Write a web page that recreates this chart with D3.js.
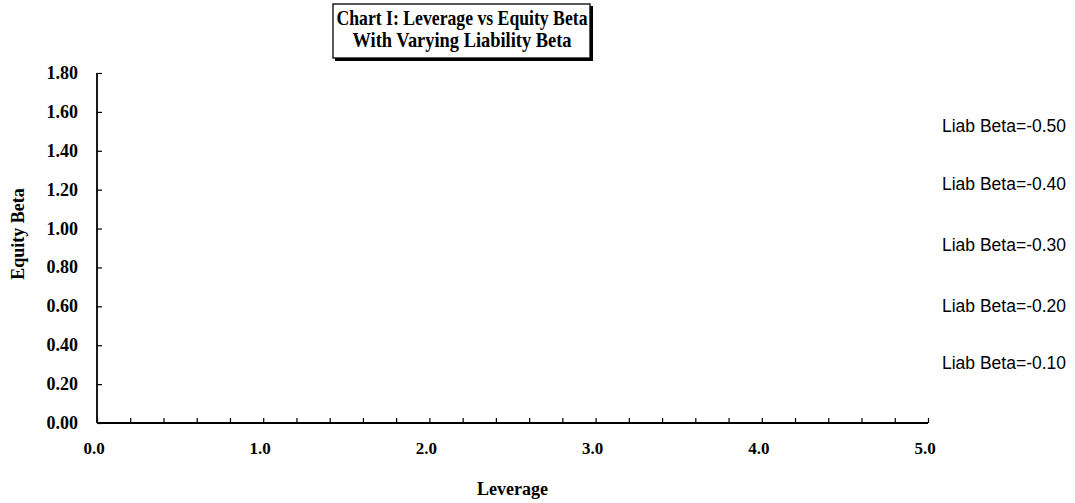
<!DOCTYPE html>
<html>
<head>
<meta charset="utf-8">
<script src="https://cdn.jsdelivr.net/npm/d3@7"></script>
<style>
  body { margin: 0; background: #fff; }
  svg { display: block; }
  .tick-lbl { font-family: "Liberation Serif", "Times New Roman", serif; font-weight: bold; font-size: 17px; }
  .series-lbl { font-family: "Liberation Sans", Arial, sans-serif; font-size: 17.5px; }
</style>
</head>
<body>
<svg id="chart"></svg>
<script>
// chart values
var titleLines = ["Chart I: Leverage vs Equity Beta", "With Varying Liability Beta"];
var titleWidths = [251, 219];
var xLabel = "Leverage", yLabel = "Equity Beta";
var xTickValues = [0, 1, 2, 3, 4, 5];
var yTickValues = [0, 0.2, 0.4, 0.6, 0.8, 1.0, 1.2, 1.4, 1.6, 1.8];
var liabBetas = [-0.50, -0.40, -0.30, -0.20, -0.10];
var labelEquityBeta = [1.53, 1.23, 0.915, 0.60, 0.31]; // where each series label sits

var width = 1075, height = 503;
var svg = d3.select("#chart").attr("width", width).attr("height", height);

var x = d3.scaleLinear().domain([0, 5]).range([97, 928]);
var y = d3.scaleLinear().domain([0, 1.8]).range([423, 73]);

// x axis, minor ticks every 0.2 pointing up
var xAxis = d3.axisBottom(x)
    .tickValues(d3.range(0, 5.0001, 0.2))
    .tickSize(-5)
    .tickFormat(function(d){ return ""; });
var gx = svg.append("g").attr("transform", "translate(0," + y(0) + ")").call(xAxis);
gx.select(".domain").attr("d", "M" + x(0) + ",0H" + x(5)).attr("stroke-width", 1.8);
gx.selectAll(".tick line").attr("stroke-width", 1.2);

svg.selectAll(".xlbl").data(xTickValues).enter().append("text")
    .attr("class", "tick-lbl")
    .attr("x", function(d){ return x(d) - 3; })
    .attr("y", 454)
    .attr("text-anchor", "middle")
    .text(function(d){ return d.toFixed(1); });

// y axis, ticks pointing right
var yAxis = d3.axisLeft(y)
    .tickValues(yTickValues)
    .tickSize(-5)
    .tickFormat(function(d){ return ""; });
var gy = svg.append("g").attr("transform", "translate(" + x(0) + ",0)").call(yAxis);
gy.select(".domain").attr("d", "M0," + y(1.8) + "V" + y(0)).attr("stroke-width", 1.8);
gy.selectAll(".tick line").attr("stroke-width", 1.2);

svg.selectAll(".ylbl").data(yTickValues).enter().append("text")
    .attr("class", "tick-lbl")
    .attr("x", 78)
    .attr("y", function(d){ return y(d) + 6; })
    .attr("text-anchor", "end")
    .style("font-size", "18px")
    .text(function(d){ return d.toFixed(2); });

// series labels on the right
svg.selectAll(".slbl").data(liabBetas).enter().append("text")
    .attr("class", "series-lbl")
    .attr("x", x(5) + 14)
    .attr("y", function(d, i){ return y(labelEquityBeta[i]) + 6; })
    .text(function(d){ return "Liab Beta=" + d.toFixed(2); });

// axis titles
svg.append("text").attr("class", "tick-lbl")
    .attr("x", (x(0) + x(5)) / 2).attr("y", 495)
    .attr("text-anchor", "middle").style("font-size", "18px")
    .text(xLabel);
svg.append("text").attr("class", "tick-lbl")
    .attr("transform", "translate(24," + 234 + ") rotate(-90)")
    .attr("text-anchor", "middle").style("font-size", "18px")
    .text(yLabel);

// boxed title
var tb = svg.append("g");
tb.append("rect").attr("x", 335).attr("y", 6).attr("width", 258).attr("height", 55).attr("fill", "#000");
tb.append("rect").attr("x", 333).attr("y", 4).attr("width", 257).attr("height", 54)
    .attr("fill", "#fff").attr("stroke", "#000").attr("stroke-width", 1.3);
tb.selectAll("text").data(titleLines).enter().append("text")
    .attr("class", "tick-lbl")
    .attr("x", 462)
    .attr("y", function(d, i){ return 25 + i * 22; })
    .attr("text-anchor", "middle")
    .attr("textLength", function(d, i){ return titleWidths[i]; })
    .attr("lengthAdjust", "spacingAndGlyphs")
    .style("font-size", "21px")
    .text(function(d){ return d; });
</script>
</body>
</html>
